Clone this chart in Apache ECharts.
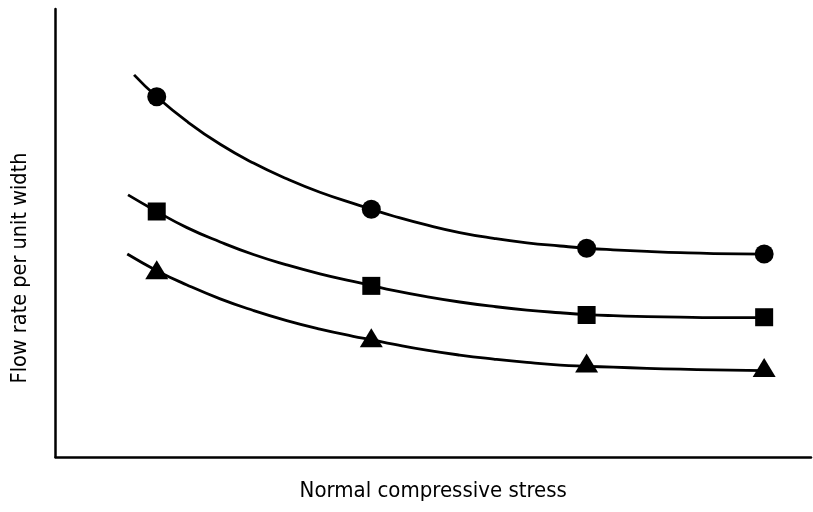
<!DOCTYPE html>
<html>
<head>
<meta charset="utf-8">
<script src="https://cdn.jsdelivr.net/npm/echarts@6/dist/echarts.min.js"></script>
<style>
html,body{margin:0;padding:0;background:#fff;}
#chart{width:813px;height:512px;}
</style>
</head>
<body>
<div id="chart"></div>
<script>
// Measured points: normal compressive stress (arbitrary units, 0-100 across the axis)
const stressPoints = [13.4, 41.8, 70.3, 93.8];
// Flow rate per unit width at the measured points (arbitrary units, 0-100 up the axis)
const circleFlow = [80.4, 55.3, 46.6, 45.3];
const squareFlow = [54.8, 38.2, 31.7, 31.2];
const triangleFlow = [41.8, 26.6, 21.0, 20.0];

// Fitted curves
const circleCurveX = [10.4, 13.4, 17.4, 21.8, 26.2, 30.6, 35.0, 40.3, 41.8, 44.7, 49.1, 53.5, 58.0, 62.4, 66.8, 70.3, 73.8, 78.3, 82.7, 87.1, 93.8];
const circleCurveY = [85.3, 80.4, 74.9, 69.8, 65.6, 62.1, 59.1, 56.1, 55.3, 53.8, 51.8, 50.1, 48.8, 47.8, 47.1, 46.6, 46.25, 45.9, 45.6, 45.4, 45.3];
const squareCurveX = [9.6, 13.4, 17.4, 21.8, 26.2, 30.6, 35.0, 39.4, 41.8, 44.7, 49.1, 53.5, 58.0, 62.4, 66.8, 70.3, 73.8, 78.3, 82.7, 87.1, 93.8];
const squareCurveY = [58.5, 54.8, 51.2, 48.0, 45.2, 42.9, 40.9, 39.2, 38.3, 37.2, 35.8, 34.6, 33.6, 32.8, 32.2, 31.8, 31.55, 31.35, 31.2, 31.1, 31.1];
const triangleCurveX = [9.5, 13.4, 17.4, 21.8, 26.2, 30.6, 35.0, 39.4, 41.8, 44.7, 49.1, 53.5, 58.0, 62.4, 66.8, 70.3, 73.8, 78.3, 82.7, 87.1, 93.8];
const triangleCurveY = [45.3, 41.6, 38.4, 35.3, 32.7, 30.45, 28.55, 26.95, 26.2, 25.2, 23.85, 22.75, 21.85, 21.1, 20.5, 20.25, 20.05, 19.8, 19.6, 19.45, 19.3];

const xAxisName = 'Normal compressive stress';
const yAxisName = 'Flow rate per unit width';

const FONT = '"DejaVu Sans Condensed", "DejaVu Sans", sans-serif';

function pts(xs, ys) { return xs.map((x, i) => [x, ys[i]]); }

function curve(xs, ys) {
  return {
    type: 'line', smooth: 0.5, symbol: 'none', silent: true,
    data: pts(xs, ys),
    lineStyle: { color: '#000', width: 2.8, cap: 'butt', join: 'round' }, z: 2
  };
}
function marks(ys, symbol, size) {
  return {
    type: 'scatter', symbol: symbol, symbolSize: size,
    data: pts(stressPoints, ys),
    itemStyle: { color: '#000', opacity: 1 }, z: 3
  };
}

const chart = echarts.init(document.getElementById('chart'), null, { renderer: 'canvas' });
chart.setOption({
  animation: false,
  backgroundColor: '#fff',
  grid: { left: 55.5, right: 2, top: 9, bottom: 55, containLabel: false },
  xAxis: {
    type: 'value', min: 0, max: 100,
    axisLine: { show: true, lineStyle: { color: '#000', width: 2.5 } },
    axisTick: { show: false }, axisLabel: { show: false }, splitLine: { show: false },
    name: xAxisName, nameLocation: 'middle', nameGap: 23,
    nameTextStyle: { fontFamily: FONT, fontSize: 22, color: '#000' }
  },
  yAxis: {
    type: 'value', min: 0, max: 100,
    axisLine: { show: true, lineStyle: { color: '#000', width: 2.5 } },
    axisTick: { show: false }, axisLabel: { show: false }, splitLine: { show: false }
  },
  graphic: [{
    type: 'text', x: 20, y: 268, rotation: Math.PI / 2,
    style: { text: yAxisName, fontFamily: FONT, fontSize: 21.5, fill: '#000',
             align: 'center', verticalAlign: 'middle' }
  }],
  series: [
    curve(circleCurveX, circleCurveY),
    curve(squareCurveX, squareCurveY),
    curve(triangleCurveX, triangleCurveY),
    marks(circleFlow, 'circle', 19),
    marks(squareFlow, 'rect', 18),
    marks(triangleFlow, 'triangle', [23, 19])
  ]
});
</script>
</body>
</html>
